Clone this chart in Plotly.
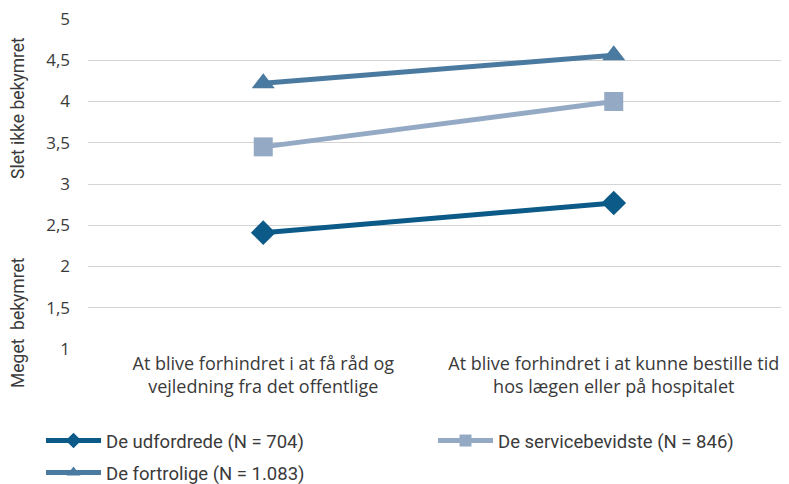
import plotly.graph_objects as go

categories = ["At blive forhindret i at få råd og<br>vejledning fra det offentlige",
              "At blive forhindret i at kunne bestille tid<br>hos lægen eller på hospitalet"]
series_names = ["De udfordrede (N = 704)", "De servicebevidste (N = 846)", "De fortrolige (N = 1.083)"]
udfordrede = [2.41, 2.77]
servicebevidste = [3.45, 4.0]
fortrolige = [4.22, 4.56]
y_ticks = [1, 1.5, 2, 2.5, 3, 3.5, 4, 4.5, 5]
y_ticklabels = ["1", "1,5", "2", "2,5", "3", "3,5", "4", "4,5", "5"]

FONT = "Roboto"
XFONT = "Open Sans"
TXT = "#3a3a3a"

# page has an 8px body margin; figure is sized so it fills the 789x484 window
W, H = 781, 476
L, T, B = 80, 11, 135
PW = W - L
PH = H - T - B

def px_x(page_x):
    return (page_x - 8 - L) / PW

def px_y(page_y):
    return (H - B - (page_y - 8)) / PH

fig = go.Figure()
styles = [
    (udfordrede, "#0b5a87", "diamond", 19, "legend"),
    (servicebevidste, "#94aac4", "square", 19, "legend"),
    (fortrolige, "#4a7aa0", "triangle-up", 20, "legend2"),
]
for name, (vals, col, sym, sz, lg) in zip(series_names, styles):
    fig.add_trace(go.Scatter(
        x=categories, y=vals, name=name, mode="lines+markers",
        line=dict(color=col, width=5),
        marker=dict(symbol=sym, size=sz, color=col),
        legend=lg,
    ))

legend_common = dict(orientation="h", xref="paper", yref="paper",
                     yanchor="middle", xanchor="left",
                     entrywidth=322, entrywidthmode="pixels",
                     font=dict(family=FONT, size=18.5, color=TXT), itemwidth=55,
                     itemsizing="constant", bgcolor="rgba(0,0,0,0)")

fig.update_layout(
    width=W, height=H,
    margin=dict(l=L, r=0, t=T, b=B, autoexpand=False),
    paper_bgcolor="white", plot_bgcolor="white",
    font=dict(family=FONT, size=17, color=TXT),
    showlegend=True,
    legend=dict(legend_common, x=px_x(41), y=px_y(441)),
    legend2=dict(legend_common, x=px_x(41), y=px_y(473)),
    xaxis=dict(showgrid=False, showline=False, ticks="", range=[-0.5, 1.5],
               ticklabelstandoff=2,
               tickfont=dict(family=XFONT, size=18, color=TXT)),
    yaxis=dict(range=[1, 5], tickvals=y_ticks, ticktext=y_ticklabels,
               showgrid=True, gridcolor="#d4d4d4", gridwidth=1, zeroline=False,
               showline=False, ticks="", ticklabelstandoff=17,
               ticklabeloverflow="allow",
               tickfont=dict(family=XFONT, size=17, color=TXT)),
)

fig.add_annotation(text="Slet ikke bekymret", x=px_x(18), y=px_y(108), xref="paper", yref="paper",
                   xanchor="center", yanchor="middle",
                   showarrow=False, textangle=-90, font=dict(size=17.5, color=TXT))
fig.add_annotation(text="Meget  bekymret", x=px_x(18), y=px_y(323), xref="paper", yref="paper",
                   xanchor="center", yanchor="middle",
                   showarrow=False, textangle=-90, font=dict(size=17.5, color=TXT))

fig.write_html("out.html")
